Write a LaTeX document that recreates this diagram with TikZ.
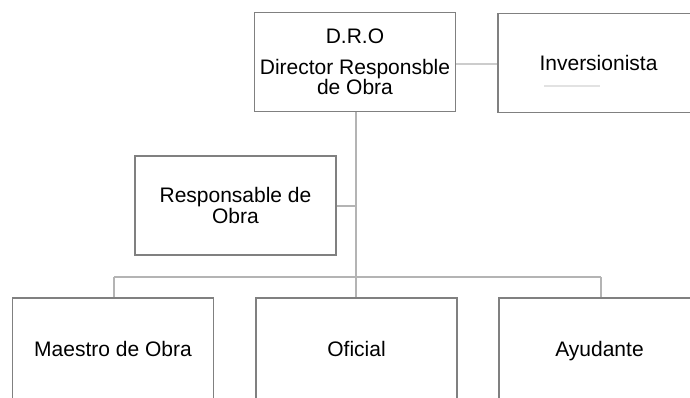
\documentclass[tikz,border=0pt]{standalone}
\usepackage{fontspec}
\setmainfont{Liberation Sans}
\definecolor{boxgray}{HTML}{808080}
\definecolor{linegray}{HTML}{B4B4B4}
\definecolor{lightline}{HTML}{CCCCCC}
\definecolor{faint}{HTML}{E2E2E2}
\tikzset{
  orgbox/.style={draw=boxgray, line width=1.7pt, fill=white, minimum width=201pt, minimum height=99pt, align=center, inner sep=0pt, font=\fontsize{21}{21}\selectfont, text=black},
  tallbox/.style={orgbox, minimum height=110pt},
  conn/.style={draw=linegray, line width=1.8pt},
  connlight/.style={draw=lightline, line width=1.8pt}
}
\begin{document}
\begin{tikzpicture}[x=1pt,y=-1pt]
\useasboundingbox (0,0) rectangle (690,397);
\clip (0,0) rectangle (690,397);
\fill[white] (0,0) rectangle (690,397);
% nodes
\node[orgbox] (dro) at (355,62) {D.R.O\\[10pt]Director Responsble\\[-1pt]de Obra};
\node[orgbox] (inv) at (598.5,63) {Inversionista};
\node[orgbox] (resp) at (235.5,205.5) {Responsable de\\Obra};
\node[tallbox] (mae) at (113,353) {\raisebox{8pt}{Maestro de Obra}};
\node[tallbox] (ofi) at (356.5,353) {\raisebox{8pt}{Oficial}};
\node[tallbox] (ayu) at (599.5,353) {\raisebox{8pt}{Ayudante}};
% faint line in Inversionista
\coordinate (fa) at (544,86);
\coordinate (fb) at (600,86);
\draw[draw=faint, line width=1.2pt] (fa) -- (fb);
% connectors
\coordinate (trunk) at (356,277);
\coordinate (hl) at (114,277);
\coordinate (hr) at (601,277);
\coordinate (rj) at (356,206);
\draw[connlight] (dro.east |- 0,64) -- (inv.west |- 0,64);
\draw[conn] (dro.south -| trunk) -- (trunk);
\draw[conn] (resp.east |- rj) -- (rj);
\draw[conn] (hl) -- (hr);
\draw[conn] (hl) -- (hl |- mae.north);
\draw[conn] (trunk) -- (trunk |- ofi.north);
\draw[conn] (hr) -- (hr |- ayu.north);
\end{tikzpicture}
\end{document}
